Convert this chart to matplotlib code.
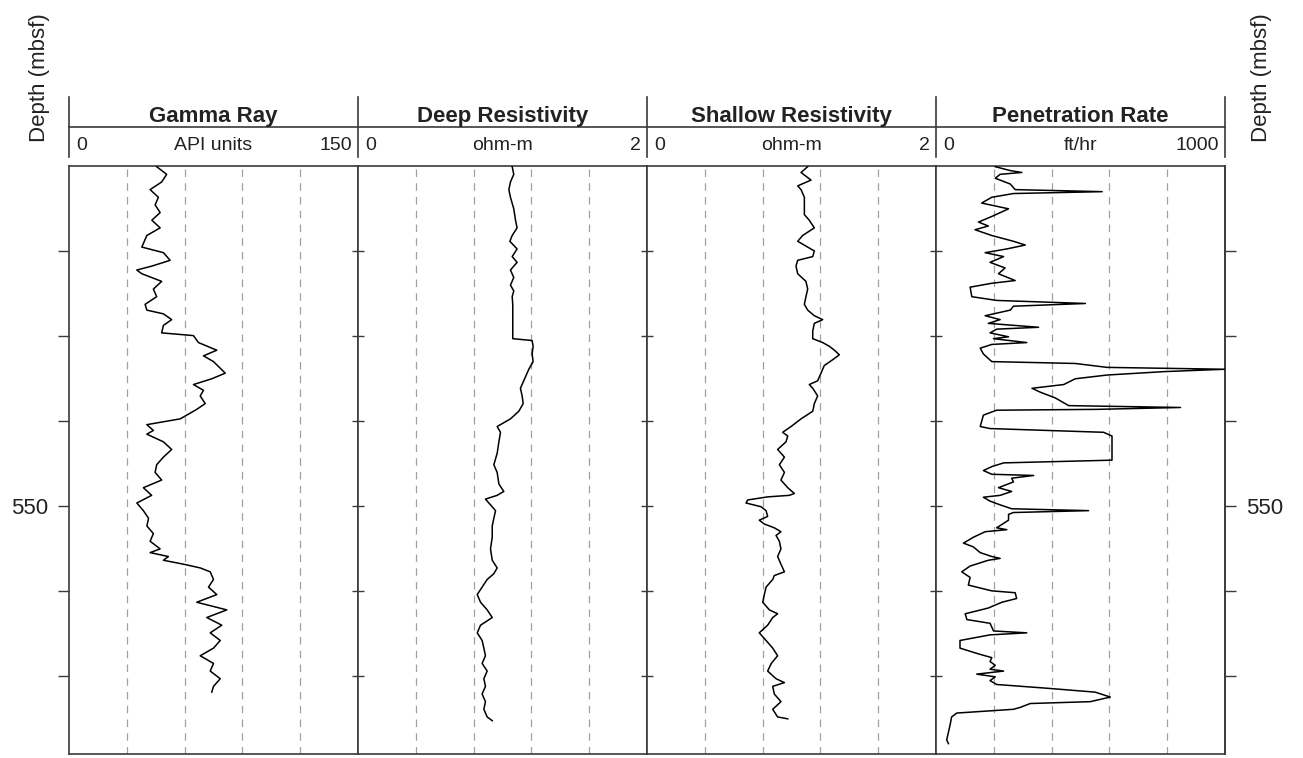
import numpy as np
import matplotlib.pyplot as plt
from matplotlib.lines import Line2D

plt.rcParams['font.family'] = ['Liberation Sans', 'DejaVu Sans']

# depth window (mbsf)
depth_top = 530.0
depth_bottom = 564.6
depth_ticks = [535, 540, 545, 550, 555, 560]

track_titles = ["Gamma Ray", "Deep Resistivity", "Shallow Resistivity", "Penetration Rate"]
track_units = ["API units", "ohm-m", "ohm-m", "ft/hr"]
track_max = [150, 2, 2, 1000]
track_max_labels = ["150", "2", "2", "1000"]

# Gamma ray (API)
gr_depth = [530.04, 530.49, 530.94, 531.39, 531.84, 532.29, 532.74, 533.19, 533.64, 534.09,
            534.77, 535.10, 535.55, 535.89, 536.12, 536.34, 536.79, 537.24, 537.69, 538.14,
            538.48, 538.70, 539.04, 539.38, 539.82, 539.98, 540.39, 540.84, 541.17, 541.51,
            542.19, 542.52, 542.86, 543.20, 543.53, 543.98, 544.32, 544.66, 544.88, 545.22,
            545.56, 545.78, 546.23, 546.68, 547.13, 547.58, 548.03, 548.48, 548.93, 549.38,
            549.83, 550.28, 550.73, 551.18, 551.63, 552.08, 552.53, 552.75, 552.98, 553.20,
            553.43, 553.65, 553.88, 554.33, 554.78, 555.22, 555.67, 556.12, 556.57, 557.02,
            557.47, 557.92, 558.37, 558.82, 559.27, 559.72, 560.17, 560.62, 560.96]
gr_api = [45.5, 50.7, 48.1, 42.1, 46.4, 44.7, 47.3, 43.0, 47.3, 40.4,
          37.8, 49.0, 52.5, 43.0, 35.2, 37.8, 48.1, 43.8, 45.5, 39.5,
          40.4, 49.0, 53.3, 49.0, 48.1, 64.6, 67.2, 76.7, 69.8, 75.0,
          81.1, 74.1, 64.6, 69.8, 68.1, 70.7, 66.3, 61.1, 57.7, 40.4,
          43.8, 40.4, 49.0, 53.3, 49.0, 45.5, 44.7, 48.1, 38.6, 42.9,
          35.2, 38.6, 41.3, 40.4, 43.8, 42.1, 47.3, 42.1, 51.6, 49.0,
          59.4, 68.1, 73.3, 75.0, 72.4, 76.7, 66.3, 81.9, 71.5, 79.3,
          73.3, 78.5, 75.0, 68.1, 75.0, 73.3, 78.5, 75.0, 74.1]

# Deep resistivity (ohm-m)
deep_depth = [530.04, 530.49, 530.94, 531.39, 531.84, 532.52, 533.19, 533.64, 534.09, 534.43,
              534.88, 535.33, 535.67, 536.12, 536.56, 537.01, 537.35, 537.69, 538.14, 539.04,
              540.16, 540.27, 540.61, 541.06, 541.51, 541.96, 542.64, 543.08, 543.53, 543.98,
              544.43, 544.88, 545.33, 545.67, 546.23, 546.91, 547.58, 548.03, 548.71, 549.15,
              549.38, 549.60, 549.94, 550.28, 550.73, 551.18, 551.85, 552.53, 553.20, 553.65,
              553.99, 554.33, 554.78, 555.22, 555.67, 556.12, 556.57, 557.02, 557.47, 557.92,
              558.37, 558.82, 559.27, 559.72, 560.17, 560.62, 561.07, 561.52, 561.97, 562.42,
              562.64]
deep_res = [1.067, 1.078, 1.055, 1.044, 1.055, 1.078, 1.090, 1.101, 1.067, 1.051,
            1.101, 1.067, 1.101, 1.055, 1.078, 1.055, 1.078, 1.067, 1.071, 1.071,
            1.071, 1.205, 1.212, 1.205, 1.212, 1.182, 1.147, 1.124, 1.136, 1.143,
            1.113, 1.055, 0.963, 0.986, 0.975, 0.963, 0.940, 0.963, 0.975, 1.009,
            0.963, 0.882, 0.917, 0.952, 0.940, 0.929, 0.929, 0.917, 0.929, 0.963,
            0.940, 0.894, 0.859, 0.825, 0.848, 0.894, 0.929, 0.848, 0.825, 0.859,
            0.871, 0.882, 0.859, 0.894, 0.871, 0.882, 0.859, 0.882, 0.871, 0.894,
            0.929]

# Shallow resistivity (ohm-m)
shal_depth = [530.04, 530.38, 530.83, 531.17, 531.39, 531.84, 532.29, 532.86, 533.19, 533.64,
              534.09, 534.43, 535.00, 535.33, 535.55, 535.89, 536.34, 536.79, 537.24, 537.69,
              538.14, 538.48, 538.81, 539.04, 539.26, 539.71, 540.16, 540.39, 540.61, 540.84,
              541.11, 541.40, 541.74, 542.19, 542.64, 542.86, 543.08, 543.53, 543.98, 544.43,
              544.88, 545.33, 545.67, 545.89, 546.23, 546.68, 547.13, 547.58, 548.03, 548.48,
              548.93, 549.27, 549.38, 549.47, 549.65, 549.83, 550.05, 550.28, 550.62, 550.84,
              551.07, 551.29, 551.52, 551.74, 552.08, 552.53, 552.98, 553.43, 553.88, 554.10,
              554.33, 554.78, 555.22, 555.67, 556.12, 556.35, 556.57, 557.02, 557.47, 557.92,
              558.37, 558.82, 559.27, 559.72, 560.17, 560.40, 560.62, 561.07, 561.52, 561.97,
              562.42, 562.53]
shal_res = [1.112, 1.066, 1.135, 1.043, 1.066, 1.089, 1.089, 1.089, 1.123, 1.158,
            1.077, 1.043, 1.158, 1.147, 1.043, 1.031, 1.043, 1.100, 1.112, 1.100,
            1.089, 1.112, 1.158, 1.216, 1.158, 1.147, 1.147, 1.216, 1.262, 1.297,
            1.331, 1.285, 1.227, 1.204, 1.181, 1.123, 1.147, 1.181, 1.158, 1.147,
            1.066, 0.997, 0.939, 0.974, 0.962, 0.904, 0.951, 0.916, 0.951, 0.927,
            0.974, 1.020, 0.985, 0.835, 0.697, 0.685, 0.789, 0.824, 0.835, 0.777,
            0.812, 0.881, 0.927, 0.893, 0.916, 0.927, 0.904, 0.927, 0.951, 0.881,
            0.870, 0.824, 0.812, 0.801, 0.847, 0.904, 0.870, 0.835, 0.777, 0.824,
            0.870, 0.904, 0.860, 0.835, 0.893, 0.951, 0.870, 0.881, 0.927, 0.870,
            0.904, 0.974]

# Penetration rate (ft/hr)
rop_depth = [530.04, 530.27, 530.38, 530.49, 530.72, 531.06, 531.39, 531.51, 531.62, 531.84,
             532.18, 532.52, 532.97, 533.30, 533.53, 533.75, 534.09, 534.43, 534.65, 534.88,
             535.10, 535.33, 535.67, 536.00, 536.34, 536.74, 536.90, 537.13, 537.69, 537.91,
             538.09, 538.25, 538.48, 538.81, 539.04, 539.26, 539.49, 539.60, 539.82, 540.05,
             540.16, 540.39, 540.50, 540.72, 541.06, 541.51, 541.62, 541.85, 541.96, 542.10,
             542.30, 542.52, 542.86, 543.08, 543.31, 543.65, 544.10, 544.21, 544.32, 544.37,
             544.66, 545.33, 545.45, 545.67, 545.89, 547.31, 547.47, 547.69, 547.92, 548.14,
             548.21, 548.37, 548.59, 548.93, 549.15, 549.38, 549.49, 549.72, 549.94, 550.17,
             550.28, 550.39, 550.50, 550.84, 551.29, 551.40, 551.52, 551.85, 552.19, 552.41,
             552.75, 552.98, 553.09, 553.20, 553.54, 553.88, 554.21, 554.66, 555.00, 555.11,
             555.45, 555.67, 556.01, 556.35, 556.69, 556.91, 557.36, 557.47, 557.59, 557.92,
             558.37, 558.71, 558.93, 559.16, 559.38, 559.61, 559.72, 559.90, 560.06, 560.28,
             560.51, 560.73, 560.96, 561.25, 561.52, 561.63, 561.86, 561.97, 562.19, 562.42,
             562.87, 563.32, 563.77, 563.99]
rop_rate = [205, 257, 297, 222, 205, 257, 274, 575, 268, 193,
            158, 251, 193, 147, 181, 135, 193, 268, 309, 245,
            170, 234, 187, 239, 216, 274, 193, 118, 124, 210,
            517, 268, 257, 170, 222, 181, 355, 210, 187, 251,
            199, 314, 193, 153, 164, 193, 482, 592, 1000, 788,
            592, 482, 442, 332, 361, 413, 459, 846, 557, 210,
            164, 153, 187, 580, 609, 609, 234, 193, 164, 193,
            338, 262, 268, 216, 262, 222, 164, 187, 222, 262,
            528, 268, 251, 251, 210, 245, 170, 129, 95, 129,
            153, 193, 222, 181, 118, 89, 118, 112, 193, 274,
            279, 228, 181, 101, 107, 187, 199, 314, 187, 83,
            83, 147, 193, 187, 205, 187, 234, 141, 205, 187,
            210, 384, 551, 603, 534, 326, 291, 268, 72, 54,
            49, 43, 37, 43]

series = [(gr_api, gr_depth), (deep_res, deep_depth), (shal_res, shal_depth), (rop_rate, rop_depth)]

W, H = 1303, 758
edges = [69, 358, 647, 936, 1225]   # track borders, px
top, bot = 166, 754                 # data frame, px
frame_col = '#3a3a3a'
text_col = '#222222'

fig = plt.figure(figsize=(W / 100, H / 100), dpi=100)

for i in range(4):
    ax = fig.add_axes([edges[i] / W, 1 - bot / H, (edges[i + 1] - edges[i]) / W, (bot - top) / H])
    x, d = series[i]
    ax.plot(x, d, color='black', lw=1.1, zorder=3)
    ax.set_xlim(0, track_max[i])
    ax.set_ylim(depth_bottom, depth_top)
    for k in range(1, 5):
        ax.axvline(track_max[i] * k / 5, color='#a0a0a0', lw=0.9, ls=(0, (6, 5)), zorder=1)
    ax.set_xticks([])
    for s in ax.spines.values():
        s.set_color(frame_col)
        s.set_linewidth(1.2)
    ax.set_yticks(depth_ticks)
    labels = ['550' if t == 550 else '' for t in depth_ticks]
    if i == 0:
        ax.set_yticklabels(labels)
        ax.tick_params(axis='y', left=True, right=False, direction='out', length=8,
                       width=1, color=frame_col, pad=7, labelsize=16, labelcolor=text_col)
    else:
        ax.tick_params(axis='y', left=True, right=False, direction='inout', length=9,
                       width=1, color=frame_col, labelleft=False)
    if i == 3:
        sec = ax.secondary_yaxis('right')
        sec.set_yticks(depth_ticks)
        sec.set_yticklabels(labels)
        sec.tick_params(axis='y', direction='out', length=8, width=1, color=frame_col,
                        pad=7, labelsize=16, labelcolor=text_col)
        sec.spines['right'].set_color(frame_col)
        sec.spines['right'].set_linewidth(1.2)

# header block
fig.add_artist(Line2D([edges[0] / W, edges[-1] / W], [1 - 127 / H] * 2,
                      transform=fig.transFigure, color=frame_col, lw=1.2))
for e in edges:
    fig.add_artist(Line2D([e / W] * 2, [1 - 97 / H, 1 - 157 / H],
                          transform=fig.transFigure, color=frame_col, lw=1.2))

for i in range(4):
    cx = (edges[i] + edges[i + 1]) / 2 / W
    fig.text(cx, 1 - 122 / H, track_titles[i], ha='center', va='baseline',
             fontsize=16, fontweight='bold', color=text_col)
    fig.text(cx, 1 - 150 / H, track_units[i], ha='center', va='baseline',
             fontsize=14, color=text_col)
    fig.text((edges[i] + 7) / W, 1 - 150 / H, '0', ha='left', va='baseline',
             fontsize=14, color=text_col)
    fig.text((edges[i + 1] - 6) / W, 1 - 150 / H, track_max_labels[i], ha='right',
             va='baseline', fontsize=14, color=text_col)

fig.text(40 / W, 1 - 78 / H, 'Depth (mbsf)', rotation=90, ha='center', va='center',
         fontsize=16, color=text_col)
fig.text(1262 / W, 1 - 78 / H, 'Depth (mbsf)', rotation=90, ha='center', va='center',
         fontsize=16, color=text_col)

fig.savefig('out.png', dpi=100)
